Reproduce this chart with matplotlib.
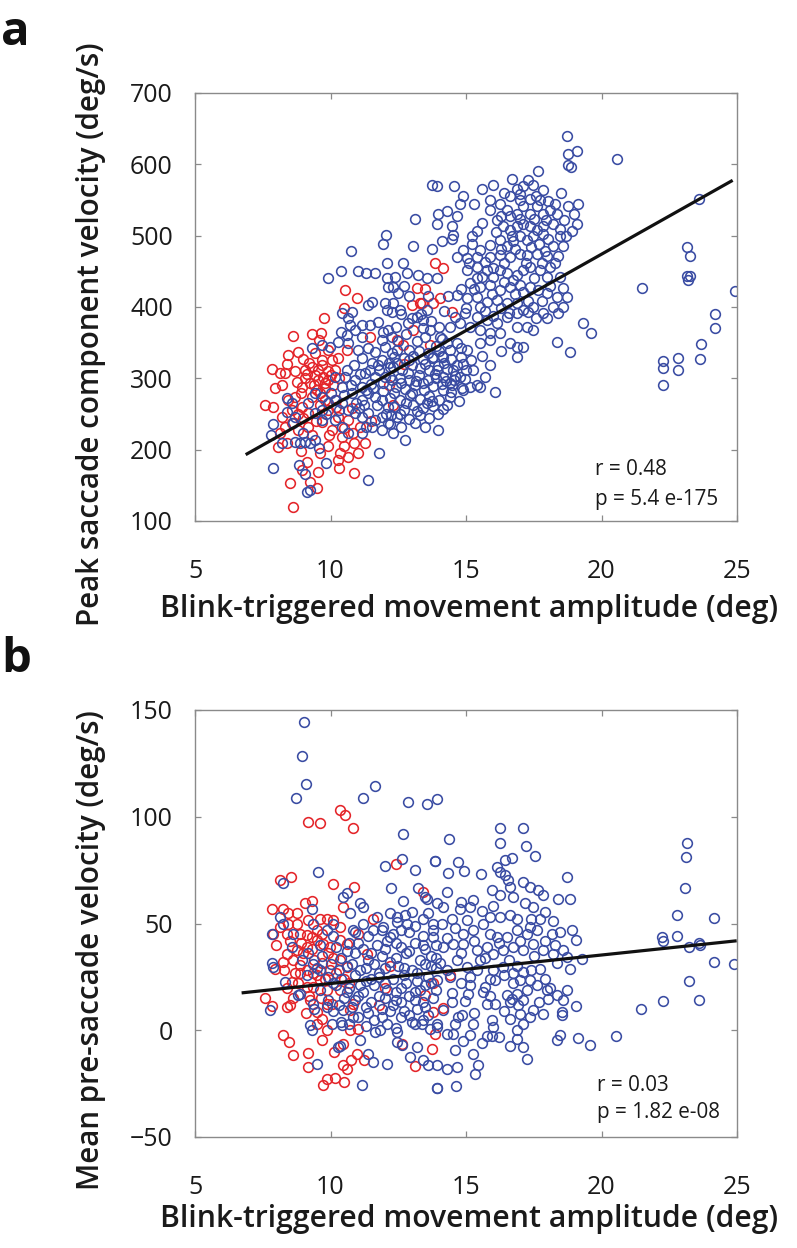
import matplotlib
matplotlib.use("Agg")
import matplotlib.pyplot as plt
import numpy as np

# ---------------- data ----------------
# Panel a: peak saccade component velocity vs amplitude
a_red = [
    (10.54,424),(10.99,412),(10.51,399),(9.76,384),(8.60,360),(9.33,362),(9.65,364),(9.58,354),
    (8.44,333),(8.81,337),(9.00,327),(7.83,313),(8.14,307),(8.32,307),(7.95,286),(7.58,263),
    (7.89,260),(9.06,312),(9.30,316),(9.55,312),(9.74,302),(9.92,298),(10.17,312),(8.94,288),
    (9.24,293),(9.49,284),(9.80,286),(9.30,274),(8.69,274),(8.57,256),(8.94,260),(9.18,251),
    (8.20,246),(8.32,232),(8.14,223),(8.57,237),(8.08,204),(8.38,209),(9.12,183),(8.94,171),
    (9.55,169),(9.24,155),(9.49,146),(8.50,153),(8.60,119),(10.29,185),(10.66,190),(10.88,167),
    (10.35,196),(10.41,218),(10.84,223),(11.27,209),(11.09,232),(10.66,241),(10.78,258),
    (11.46,358),(10.04,326),(10.29,328),(10.60,340),(9.92,340),(8.81,227),(9.18,232),
    (10.04,227),(9.67,239),(9.92,256),(10.29,246),(9.43,335),(9.67,326),
    (13.86,461),(14.16,454),(13.18,426),(13.49,425),(12.99,403),(13.30,405),(13.80,405),
    (14.04,412),(14.47,393),(13.06,368),(12.69,347),(12.44,354),(13.67,347),(13.36,405),
    (9.06,300),(9.43,305),(9.80,294),(10.10,290),(8.75,295),(8.45,270),(9.00,245),(9.60,262),
    (10.20,270),(9.30,220),(9.90,205),(10.50,205),(11.00,195),(10.30,175),(11.50,240),
    (8.20,290),(9.70,318),(12.15,290),(12.70,320),(12.30,262),
    (9.15,306),(9.55,297),(9.90,310),(9.40,291),(8.90,280),(9.60,280),(10.00,305),(8.70,310),
    (9.20,322),(8.40,320),(10.30,300),(9.80,270),(8.80,250),(9.45,240),(10.50,230),(9.95,220),
    (10.85,210),(8.90,198),(9.60,195),(10.20,260),
]
a_blue = [
    # left part
    (7.89,175),(7.89,236),(7.80,220),(8.20,209),(8.38,272),(8.57,265),(8.38,253),(8.69,246),
    (8.63,237),(9.00,223),(8.87,209),(9.06,211),(9.24,209),(9.43,213),(9.58,202),(8.69,211),
    (8.84,178),(9.06,166),(9.12,141),(9.24,143),(9.82,182),(11.40,158),(11.80,196),
    (9.92,440),(10.38,450),(11.03,450),(11.31,447),(11.64,447),(12.07,440),(12.13,428),(12.32,428),
    (10.74,479),(12.04,501),(11.92,488),(12.07,462),
    (10.78,393),(11.40,403),(11.52,407),(12.01,405),(12.07,396),(12.26,393),
    (10.72,375),(11.15,375),(11.46,375),(11.77,379),(11.95,365),(12.13,368),
    (10.38,365),(10.60,361),(10.29,351),(10.66,349),(11.03,340),(11.40,342),(11.64,337),
    (12.01,344),(12.26,335),(9.30,342),(9.67,347),(9.98,344),
    (11.15,328),(11.52,321),(11.89,326),(12.20,316),(11.27,307),(11.64,302),(12.01,302),(12.26,298),
    (10.17,302),(10.54,302),(10.90,298),(11.15,288),(11.40,279),(11.64,274),(11.89,270),
    (12.13,260),(11.15,270),(10.78,279),(10.41,288),
    (9.43,279),(9.67,274),(9.92,265),(10.17,270),(10.41,265),(10.66,256),(10.90,251),(11.15,246),
    (11.40,251),(11.64,241),(11.89,246),(12.13,237),
    (9.43,251),(9.67,241),(10.17,241),(10.41,232),(10.66,223),(11.15,223),(11.52,232),(11.89,227),
    (9.18,265),(9.67,256),(11.30,283),(11.55,286),(11.70,262),(11.25,262),(11.95,282),(12.05,250),
    (10.95,266),(11.50,292),(10.60,312),(11.80,312),(10.85,318),(12.15,322),
    (12.26,358),(11.89,354),(10.90,368),(11.15,358),(10.41,391),(10.66,384),
    (11.95,294),(11.75,318),(11.45,312),(11.10,306),(10.75,290),(11.30,232),(11.05,258),(10.50,276),
    (10.30,256),(9.85,250),(10.00,280),
    # dense middle
    (12.35,330),(12.70,328),(13.05,331),(13.40,327),(13.75,329),(14.10,332),(14.45,327),(14.80,330),
    (12.30,316),(12.65,312),(13.00,318),(13.30,314),(13.62,311),(13.95,317),(14.30,313),(14.65,318),
    (15.00,312),(12.20,302),(12.55,300),(12.90,298),(13.25,304),(13.60,297),(13.90,301),(14.25,296),
    (14.60,303),(14.95,299),(12.40,288),(12.75,285),(13.10,290),(13.45,283),(13.80,289),(14.15,284),
    (14.50,290),(14.85,286),(15.40,290),(12.20,273),(12.55,270),(12.95,276),(13.30,271),(13.65,275),
    (14.00,269),(14.40,274),(12.35,260),(12.70,256),(13.05,262),(13.40,258),(13.80,261),(14.15,257),
    (12.45,246),(12.90,243),(13.30,249),(13.65,244),(12.20,236),(12.60,232),
    (12.45,322),(12.85,308),(13.15,296),(13.50,320),(13.85,306),(14.20,322),(14.55,298),(14.90,320),
    (12.60,294),(13.00,280),(13.40,293),(13.75,268),(14.10,292),(14.45,281),(14.75,268),(12.35,280),
    (12.80,266),(13.20,254),(13.55,266),(13.95,250),(14.30,262),(12.55,250),(13.10,238),(13.50,232),
    (12.25,248),(12.50,352),(12.90,326),(13.25,338),(13.60,336),(14.00,338),(14.40,340),(14.80,343),
    (15.20,326),(15.60,332),(15.90,318),(16.30,338),(15.70,302),
    (13.98,227),(12.75,214),(12.32,223),
    (12.50,420),(12.90,415),(12.30,405),(12.60,390),(13.00,385),(13.40,370),(13.70,380),(14.00,372),
    (12.40,372),(12.80,362),(13.20,352),(13.50,358),(13.90,345),(12.45,340),(12.90,340),(14.20,395),
    (14.35,415),(12.70,430),(13.60,415),(13.35,390),(14.10,355),
    # upper right cloud
    (13.73,571),(13.92,569),(14.57,570),(15.58,566),(16.01,571),(16.87,566),(17.12,569),(17.46,571),
    (17.67,590),(16.62,555),(16.99,550),(17.36,552),(17.85,564),(17.73,550),(18.04,548),(14.78,544),
    (13.12,523),(13.98,531),(14.29,534),(14.66,527),(14.47,513),(14.53,501),(13.92,517),
    (15.89,536),(16.25,545),(16.50,536),(16.13,522),(15.58,518),(16.62,527),(16.87,531),(17.12,541),
    (17.36,531),(17.61,541),(17.85,531),(18.10,536),(18.35,531),(18.78,541),(19.15,545),
    (16.38,513),(16.62,508),(16.87,513),(17.12,517),(17.36,513),(17.61,508),(17.85,513),(18.22,517),
    (18.47,510),(18.90,506),(19.08,517),
    (14.10,493),(14.47,496),(15.21,499),(15.21,489),(15.52,480),(15.89,487),(16.25,494),(16.50,485),
    (16.74,492),(16.99,499),(17.24,494),(17.46,499),(17.85,503),(18.04,496),(18.47,499),(18.59,485),
    (13.06,485),(13.73,482),
    (14.66,470),(15.03,468),(15.39,470),(15.89,470),(16.25,473),(16.62,470),(16.99,475),(17.24,473),
    (17.61,475),(17.98,471),(18.41,471),
    (12.69,462),(12.38,442),(12.81,447),(13.24,445),(13.55,440),(13.92,440),
    (15.03,452),(15.39,456),(15.76,452),(16.01,442),(16.25,452),(16.50,447),(16.74,438),(17.12,452),
    (17.36,456),(17.73,452),(18.10,456),(18.47,442),(18.59,426),
    (15.15,433),(15.52,428),(15.89,431),(16.25,424),(16.62,428),(16.99,431),(17.36,428),(17.67,424),
    (17.98,419),(18.35,414),(18.72,414),
    (14.66,417),(15.03,412),(15.39,414),(15.76,407),(16.13,410),(16.50,405),(16.87,405),(17.12,396),
    (17.48,400),(17.85,391),(18.22,400),(18.59,400),
    (14.59,386),(14.96,391),(15.39,386),(15.76,382),(16.13,377),(16.50,386),(16.87,372),(17.24,372),
    (17.48,368),(18.35,351),(18.84,337),(19.33,377),
    (16.62,349),(16.87,344),(17.12,344),(16.87,330),
    (14.41,372),(14.78,377),(15.15,372),(15.52,368),(15.89,363),(16.25,363),(15.52,349),(15.89,354),
    (14.66,349),(15.03,340),(15.27,312),(15.52,288),(16.07,281),(15.15,288),(14.90,283),(14.78,302),
    (14.41,293),(14.53,312),(13.92,312),(14.16,302),(13.80,330),(14.16,330),(14.29,349),(14.04,358),
    (13.67,368),(13.43,382),(13.55,396),(13.18,386),(12.87,377),(12.56,396),
    (15.70,395),(16.30,398),(16.90,392),(17.60,385),(15.30,425),(16.80,418),(17.20,462),(16.40,462),
    (15.60,442),(17.90,478),(18.20,485),(16.10,505),(15.40,507),(14.90,480),(17.50,523),(18.60,522),
    (16.70,500),(17.70,489),(15.95,418),(17.30,408),
    (15.10,462),(15.70,463),(16.30,482),(16.80,482),(17.40,484),(17.80,462),(18.30,462),(16.00,455),
    (16.90,445),(17.50,440),(18.00,442),(15.40,440),(16.40,435),(17.10,421),(17.80,408),(16.60,392),
    (16.00,388),(15.50,400),(15.00,398),(14.80,425),(17.30,393),(18.00,385),(18.40,392),(18.10,430),
    (17.00,523),(16.30,528),(17.95,522),(18.70,500),(19.00,530),(18.30,545),(17.60,556),(17.00,558),
    (16.40,560),(15.90,550),(15.30,545),(14.90,555),(18.50,560),(17.30,578),(16.70,580),
    # far right
    (18.72,640),(18.76,614),(19.09,618),(18.75,599),(18.87,596),(20.56,607),(23.61,551),(23.14,484),
    (23.26,472),(23.14,444),(23.26,443),(23.18,438),(21.49,426),(24.92,422),(24.17,390),(24.17,371),
    (23.67,348),(23.63,327),(22.81,328),(22.81,312),(22.28,325),(22.28,315),(22.28,291),(19.60,363),
]
a_fit = (46.0, 21.4)          # intercept, slope of the regression line
a_fit_x = [6.87, 24.84]
a_stats = ["r = 0.48", "p = 5.4 e-175"]

# Panel b: mean pre-saccade velocity vs amplitude
b_red = [
    (10.35,103.1),(10.53,100.8),(10.84,94.8),(9.18,97.4),(9.61,96.9),(12.40,77.7),(10.10,68.3),
    (10.88,67.2),(8.14,70.3),(8.53,71.9),(7.83,56.6),(8.26,57.0),(8.44,54.7),(8.75,54.7),(9.06,59.4),
    (9.30,60.6),(9.18,51.6),(8.75,50.0),(9.61,52.3),(9.86,52.3),(10.10,51.6),(10.35,48.4),(10.47,57.8),
    (11.58,52.3),(11.03,45.3),(7.89,45.3),(8.14,48.4),(8.38,45.3),(8.87,45.3),(9.12,44.5),(9.30,43.8),
    (9.49,42.2),(9.74,40.6),(9.98,39.1),(10.35,42.2),(10.60,40.6),(7.95,28.5),(8.26,32.0),(8.63,32.8),
    (8.87,30.5),(9.12,28.1),(9.37,26.6),(9.67,31.3),(9.98,28.1),(10.35,32.8),(10.60,29.7),(11.33,35.9),
    (8.38,35.9),(8.75,37.5),(9.12,39.1),(8.87,26.6),(9.12,20.3),(8.57,22.7),(9.37,20.3),(9.61,23.4),
    (9.86,18.8),(7.58,15.2),(7.83,11.3),(8.38,10.9),(8.50,11.7),(9.24,14.1),(9.49,8.6),(9.67,5.5),
    (9.86,12.5),(10.04,12.5),(10.35,18.8),(10.72,9.4),(10.84,12.5),(8.26,-2.3),(8.47,-5.5),
    (8.60,-11.7),(9.16,-10.6),(9.18,-17.2),(9.67,-4.4),(9.86,0.0),(10.14,-10.2),(10.47,-6.3),
    (10.47,-16.4),(10.60,-18.0),(10.74,-13.8),(10.99,-11.0),(11.24,-14.1),(9.74,-25.8),(9.86,-22.7),
    (10.17,-22.2),(10.50,-24.4),(10.72,0.0),(11.03,0.8),(13.12,-16.7),(12.63,-6.3),(13.73,-8.6),
    (13.79,8.6),(13.79,21.9),(13.49,16.4),(13.43,64.8),(14.16,10.2),(14.41,25.8),(13.86,-1.6),
    (9.00,36.0),(9.40,33.0),(9.80,24.0),(8.70,27.0),(10.10,34.0),(10.50,24.0),(9.20,16.0),(8.40,20.0),
    (9.50,47.0),(12.00,20.0),(11.80,12.0),(12.20,30.0),
    (8.50,42.0),(8.90,41.0),(9.30,38.0),(9.70,45.0),(8.30,28.0),(8.80,22.0),(9.50,26.0),(8.60,15.0),
    (9.10,8.0),(9.50,3.0),(8.00,40.0),(9.90,36.0),(10.20,27.0),(10.70,22.0),(8.45,50.0),(9.65,15.0),
]
b_blue = [
    # outliers / left
    (9.02,144.5),(8.94,128.4),(9.08,115.3),(8.71,108.9),(11.65,114.4),(11.21,108.8),(12.87,107.0),
    (13.55,106.0),(13.92,108.3),(12.68,91.7),(12.65,80.3),(12.02,76.7),(13.13,75.0),(13.84,79.2),
    (9.55,74.1),(12.24,66.7),(13.24,66.4),(13.49,62.5),(13.57,61.3),(8.23,68.8),(10.47,62.5),
    (10.60,64.4),(11.09,59.4),(11.21,57.5),(12.69,60.6),(9.30,56.6),(12.44,53.1),(12.75,53.9),
    (12.44,50.8),(12.81,50.0),(8.14,53.1),(8.26,50.0),(7.83,45.3),(8.63,45.3),(7.83,31.6),(7.89,29.7),
    (8.32,22.7),(8.57,39.1),(7.77,9.4),(8.81,16.4),(9.24,2.3),(9.30,0.0),(9.51,-15.9),(10.29,-7.8),
    (10.35,-7.3),(11.15,-25.8),(11.09,-4.7),(11.40,-11.0),(11.58,-14.8),(12.07,-15.6),(11.64,-0.8),
    (11.83,0.0),(12.44,-0.8),(12.44,-5.5),(12.63,-7.0),(12.93,-12.5),(13.18,-7.8),(13.43,-14.1),
    (13.61,-16.4),(13.92,-26.9),(13.12,3.1),(13.36,3.1),(13.67,0.8),(13.92,3.1),
    (8.94,32.8),(9.18,36.0),(9.37,31.0),(9.12,25.8),(9.61,28.1),(8.87,17.2),(9.37,12.5),(9.86,11.0),
    (10.04,3.1),(10.47,9.4),(10.41,2.3),(10.84,6.3),(9.37,50.0),(9.86,47.0),(10.10,50.0),(10.72,54.7),
    (10.84,46.9),(11.58,46.9),(11.95,48.4),(12.20,43.8),(13.00,55.5),(13.40,52.0),(13.80,50.0),
    # dense middle
    (10.90,46),(11.40,44),(11.90,47),(12.30,45),(12.90,46),(13.40,44),(13.80,47),
    (10.20,39),(10.70,41),(11.20,38),(11.70,40),(12.10,42),(12.60,39),(13.10,41),(13.50,38),(13.90,40),
    (9.70,35),(10.40,34),(10.90,36),(11.40,33),(11.90,35),(12.40,34),(12.80,36),(13.30,33),(13.70,35),
    (9.50,29),(10.00,31),(10.60,30),(11.10,28),(11.60,31),(12.00,29),(12.50,30),(13.00,28),(13.50,31),
    (13.90,29),(9.90,25),(10.40,24),(10.90,26),(11.30,23),(11.80,25),(12.30,24),(12.70,26),(13.20,23),
    (13.60,25),(9.60,19),(10.20,21),(10.70,20),(11.20,18),(11.60,21),(12.10,19),(12.60,20),(13.10,18),
    (13.50,21),(13.90,19),(9.90,14),(10.50,15),(11.00,16),(11.50,13),(12.00,15),(12.40,14),(12.90,16),
    (13.40,13),(13.80,15),(9.40,10),(10.10,9),(10.80,11),(11.40,8),(11.90,10),(12.30,12),(12.70,9),
    (13.20,10),(13.60,7),(10.40,4),(11.00,6),(11.60,5),(12.10,3),(12.60,6),(13.00,4),
    (9.60,40),(10.10,44),(10.60,37),(11.00,41),(11.50,36),(12.00,38),(12.40,41),(12.90,37),(13.40,40),
    (13.90,34),(10.30,28),(10.80,31),(11.30,29),(11.80,27),(12.20,32),(12.70,29),(13.20,27),(13.70,30),
    (10.10,22),(10.60,18),(11.10,21),(11.50,24),(12.00,22),(12.40,18),(12.80,22),(13.30,19),(13.70,22),
    (10.30,12),(10.90,14),(11.30,11),(11.80,16),(12.20,9),(12.60,13),(13.10,14),(13.50,11),(10.70,3),
    (11.30,2),(11.90,6),(12.40,1),(12.90,7),(13.40,5),(11.20,50),(11.70,53),(12.20,55),(12.60,47),
    (13.10,49),(13.60,55),
    # right part
    (14.30,43),(14.80,36),(15.30,42),(15.70,34),(16.20,41),(16.60,33),(17.00,42),(17.50,35),(17.90,42),
    (18.30,40),(14.30,28),(14.80,22),(15.40,28),(15.90,24),(16.40,26),(16.90,30),(17.40,28),(17.90,24),
    (14.50,13),(15.30,8),(15.90,16),(16.40,9),(17.10,14),(17.70,13),(18.10,20),(14.90,-5),(15.60,-6),
    (16.20,-3),(16.90,-4),(14.10,50),(14.80,60),(15.60,56),(16.00,58),(16.90,52),(17.40,52),(18.20,51),
    (16.26,94.5),(17.12,94.5),(16.26,87.8),(17.21,86.3),(17.55,81.7),(14.37,89.5),(13.86,79.4),
    (14.72,78.6),(14.94,74.7),(15.54,73.0),(14.35,73.8),(16.13,76.6),(16.44,79.7),(16.69,80.5),
    (16.26,74.2),(16.44,72.7),(16.56,70.3),(16.62,67.2),(15.95,65.6),(17.12,69.5),(17.36,67.2),
    (17.67,65.6),(17.85,63.3),(18.41,61.3),(18.84,61.7),(18.74,71.6),(14.29,64.8),(15.27,60.9),
    (15.15,57.8),(14.78,57.0),(14.16,57.8),(13.92,59.4),(16.26,63.3),(16.75,62.5),(17.18,59.4),
    (17.49,57.8),(17.92,55.5),(17.73,52.3),(16.26,53.1),(16.62,53.9),(15.89,53.1),(15.64,50.0),
    (14.47,52.3),(15.03,51.6),(15.27,46.9),(14.90,45.3),(14.59,47.7),
    (15.89,45.3),(16.13,43.8),(16.50,43.8),(16.87,46.9),(17.24,45.3),(17.61,46.9),(17.36,48.4),
    (18.16,45.3),(18.47,46.1),(18.90,46.9),(19.05,42.2),
    (13.80,43.8),(14.16,39.1),(14.53,40.6),(14.90,40.6),(15.39,37.5),(15.76,39.1),(16.01,35.9),
    (16.38,37.5),(16.75,39.1),(17.12,37.5),(17.49,40.6),(17.85,37.5),(18.22,35.9),(18.59,37.5),
    (18.72,34.4),(19.27,33.6),
    (14.04,31.3),(14.66,32.8),(15.03,29.7),(15.52,32.8),(16.01,28.1),(16.38,29.7),(16.75,26.6),
    (17.12,27.4),(17.36,23.4),(17.73,28.9),(18.35,31.3),(18.84,28.9),
    (13.92,23.4),(14.41,25.0),(15.15,25.0),(15.15,21.1),(15.70,20.3),(16.07,23.4),(16.75,21.9),
    (17.00,23.4),(17.24,18.8),(17.61,21.1),(17.98,18.8),
    (14.47,17.5),(15.09,17.2),(15.64,18.0),(16.50,16.4),(16.69,14.8),(16.87,17.2),(18.04,14.8),
    (18.35,16.4),(18.72,18.8),(18.59,14.1),(19.05,11.3),
    (14.96,13.8),(15.76,12.5),(16.07,12.5),(16.62,13.3),(16.93,11.7),(17.49,9.4),(17.85,7.8),
    (18.53,8.6),(18.53,7.0),
    (14.16,9.4),(14.72,6.3),(14.84,7.0),(14.59,3.1),(15.27,3.1),(15.95,4.7),(16.01,1.6),(16.62,5.5),
    (16.99,7.8),(17.36,6.3),(17.12,3.1),
    (13.92,1.6),(14.29,-1.6),(14.53,-1.6),(15.15,-2.3),(15.76,-2.8),(15.95,-2.7),(16.87,0.0),
    (18.35,-4.7),(18.47,-2.3),(19.15,-3.8),(19.58,-7.0),(20.54,-2.7),
    (16.62,-7.5),(17.12,-7.8),(17.24,-13.3),(14.59,-9.4),(15.27,-11.0),(15.46,-16.4),(15.33,-20.6),
    (14.29,-18.3),(14.66,-17.2),(13.92,-16.4),(13.92,-27.0),(14.62,-26.3),
    # far right
    (23.14,87.5),(23.12,81.3),(23.09,66.4),(22.80,54.2),(24.16,52.7),(22.24,43.8),(22.26,41.9),
    (22.77,44.2),(23.23,39.1),(23.61,40.9),(23.64,39.8),(24.16,31.9),(24.90,30.9),(23.24,23.1),
    (22.26,13.8),(23.61,14.1),(21.46,9.9),
]
b_fit = (8.52, 1.336)
b_fit_x = [6.72, 24.99]
b_stats = ["r = 0.03", "p = 1.82 e-08"]

x_ticks = [5, 10, 15, 20, 25]
a_yticks = [100, 200, 300, 400, 500, 600, 700]
b_yticks = [-50, 0, 50, 100, 150]
x_label = "Blink-triggered movement amplitude (deg)"
a_ylabel = "Peak saccade component velocity (deg/s)"
b_ylabel = "Mean pre-saccade velocity (deg/s)"

# ---------------- styling ----------------
BLUE = "#3A4CA3"
RED = "#E4252A"
FONT = "Open Sans"
W, H = 797, 1248

plt.rcParams["font.family"] = [FONT, "DejaVu Sans"]
fig = plt.figure(figsize=(W / 100, H / 100), dpi=100)
renderer = fig.canvas.get_renderer()


def px_rect(l, t, r, b):
    return [l / W, 1 - b / H, (r - l) / W, (b - t) / H]


def fit_size(t, target, horizontal=True):
    # scale a text's font so its rendered extent matches the reference extent (px)
    for _ in range(2):
        bb = t.get_window_extent(renderer)
        cur = bb.width if horizontal else bb.height
        t.set_fontsize(t.get_fontsize() * target / cur)
    return t.get_fontsize()


def draw(ax, red, blue, fit, fit_x, stats, yticks, ylim):
    rx, ry = zip(*red)
    bx, by = zip(*blue)
    kw = dict(linestyle="none", marker="o", markersize=7.0, markerfacecolor="none",
              markeredgewidth=1.15)
    ax.plot(rx, ry, color=RED, **kw)
    ax.plot(bx, by, color=BLUE, **kw)
    fx = np.array(fit_x)
    ax.plot(fx, fit[0] + fit[1] * fx, color="#111111", lw=2.3, solid_capstyle="butt")
    ax.set_xlim(5, 25)
    ax.set_ylim(*ylim)
    ax.set_xticks(x_ticks)
    ax.set_yticks(yticks)
    for s in ax.spines.values():
        s.set_color("#8a8a8a")
        s.set_linewidth(1.0)
    ax.tick_params(direction="in", length=4, width=0.9, color="#8a8a8a",
                   top=True, right=True, labelsize=18, labelcolor="#1a1a1a")
    ax.tick_params(axis="x", pad=27)
    ax.tick_params(axis="y", pad=16)


ax_a = fig.add_axes(px_rect(195, 93, 737, 521))
draw(ax_a, a_red, a_blue, a_fit, a_fit_x, a_stats, a_yticks, (100, 700))
ax_b = fig.add_axes(px_rect(195, 710, 737, 1137))
draw(ax_b, b_red, b_blue, b_fit, b_fit_x, b_stats, b_yticks, (-50, 150))

# axis labels (sized to match the reference extents)
xl_a = fig.text(469 / W, 1 - 617 / H, x_label, ha="center", va="baseline",
                fontsize=21, fontweight="semibold", color="#1a1a1a")
xs = fit_size(xl_a, 618, True)
fig.text(469 / W, 1 - 1227 / H, x_label, ha="center", va="baseline",
         fontsize=xs, fontweight="semibold", color="#1a1a1a")

yl_a = fig.text(91 / W, 1 - 334 / H, a_ylabel, rotation=90, ha="center", va="center",
                fontsize=21, fontweight="semibold", color="#1a1a1a")
ys = fit_size(yl_a, 586, False)
fig.text(91 / W, 1 - 950 / H, b_ylabel, rotation=90, ha="center", va="center",
         fontsize=ys, fontweight="semibold", color="#1a1a1a")

# statistics
stat_kw = dict(va="baseline", ha="left", color="#1a1a1a", fontsize=15)
p_a = ax_a.text(0.738, 0.0374, a_stats[1], transform=ax_a.transAxes, **stat_kw)
ss = fit_size(p_a, 123, True)
stat_kw["fontsize"] = ss
ax_a.text(0.738, 0.1075, a_stats[0], transform=ax_a.transAxes, **stat_kw)
ax_b.text(0.742, 0.107, b_stats[0], transform=ax_b.transAxes, **stat_kw)
ax_b.text(0.742, 0.0438, b_stats[1], transform=ax_b.transAxes, **stat_kw)

# panel letters
fig.text(1 / W, 1 - 45 / H, "a", ha="left", va="baseline", fontsize=34,
         fontweight="bold", color="#111111")
fig.text(1 / W, 1 - 672 / H, "b", ha="left", va="baseline", fontsize=34,
         fontweight="bold", color="#111111")

fig.savefig("out.png", dpi=100)
